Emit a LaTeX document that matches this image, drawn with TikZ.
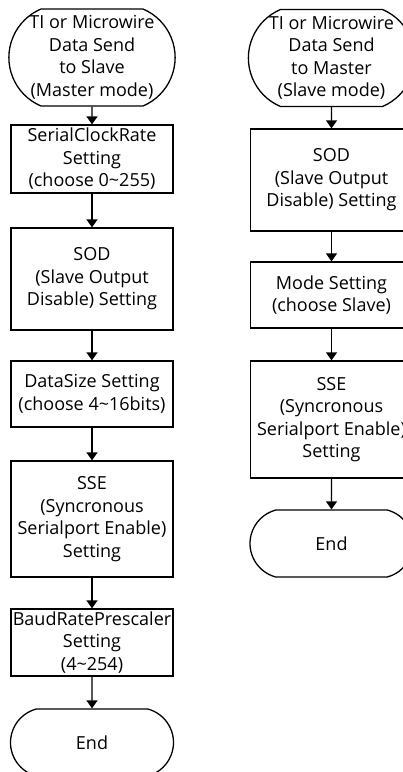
\documentclass[tikz,border=0pt]{standalone}
\usepackage{fontspec}
\setmainfont{Open Sans}
\usetikzlibrary{positioning, shapes.misc, arrows.meta}

\begin{document}
\begin{tikzpicture}[x=1pt, y=-1pt,
    stepbox/.style={draw, line width=1.3pt, rectangle, minimum width=162pt, align=center, inner sep=0pt},
    terminal/.style={draw, line width=1.3pt, rounded rectangle, minimum width=163pt, align=center, inner sep=0pt},
    flow/.style={line width=1.3pt, -{Triangle[width=11pt,length=8pt]}},
    font=\fontsize{18}{22.5}\selectfont]
  \useasboundingbox (0,0) rectangle (403,772);

  % Master mode (left)
  \node[terminal, minimum height=97pt, rounded rectangle arc length=134] (mstart) at (92,57.5) {TI or Microwire\\Data Send\\to Slave\\(Master mode)};
  \node[stepbox, minimum height=68pt] (mclk) at (92,159) {SerialClockRate\\Setting\\(choose 0\textasciitilde255)};
  \node[stepbox, minimum height=102pt] (msod) at (92,279) {SOD\\(Slave Output\\Disable) Setting};
  \node[stepbox, minimum height=66pt] (msize) at (92,394) {DataSize Setting\\(choose 4\textasciitilde16bits)};
  \node[stepbox, minimum height=116pt] (msse) at (92,519) {SSE\\(Syncronous\\Serialport Enable)\\Setting};
  \node[stepbox, minimum height=67pt] (mbaud) at (92,642.5) {BaudRatePrescaler\\Setting\\(4\textasciitilde254)};
  \node[terminal, minimum height=67pt, rounded rectangle arc length=150] (mend) at (92,742.5) {End};

  % Slave mode (right)
  \node[terminal, minimum height=97pt, rounded rectangle arc length=134] (sstart) at (331.5,58) {TI or Microwire\\Data Send\\to Master\\(Slave mode)};
  \node[stepbox, minimum height=102pt] (ssod) at (331.5,180) {SOD\\(Slave Output\\Disable) Setting};
  \node[stepbox, minimum height=66pt] (smode) at (331.5,295) {Mode Setting\\(choose Slave)};
  \node[stepbox, minimum height=117pt] (ssse) at (331.5,419.5) {SSE\\(Syncronous\\Serialport Enable)\\Setting};
  \node[terminal, minimum height=67pt, rounded rectangle arc length=150] (send) at (331.5,543.5) {End};

  % Arrows
  \draw[flow] (mstart) -- (mclk);
  \draw[flow] (mclk) -- (msod);
  \draw[flow] (msod) -- (msize);
  \draw[flow] (msize) -- (msse);
  \draw[flow] (msse) -- (mbaud);
  \draw[flow] (mbaud) -- (mend);

  \draw[flow] (sstart) -- (ssod);
  \draw[flow] (ssod) -- (smode);
  \draw[flow] (smode) -- (ssse);
  \draw[flow] (ssse) -- (send);
\end{tikzpicture}
\end{document}
